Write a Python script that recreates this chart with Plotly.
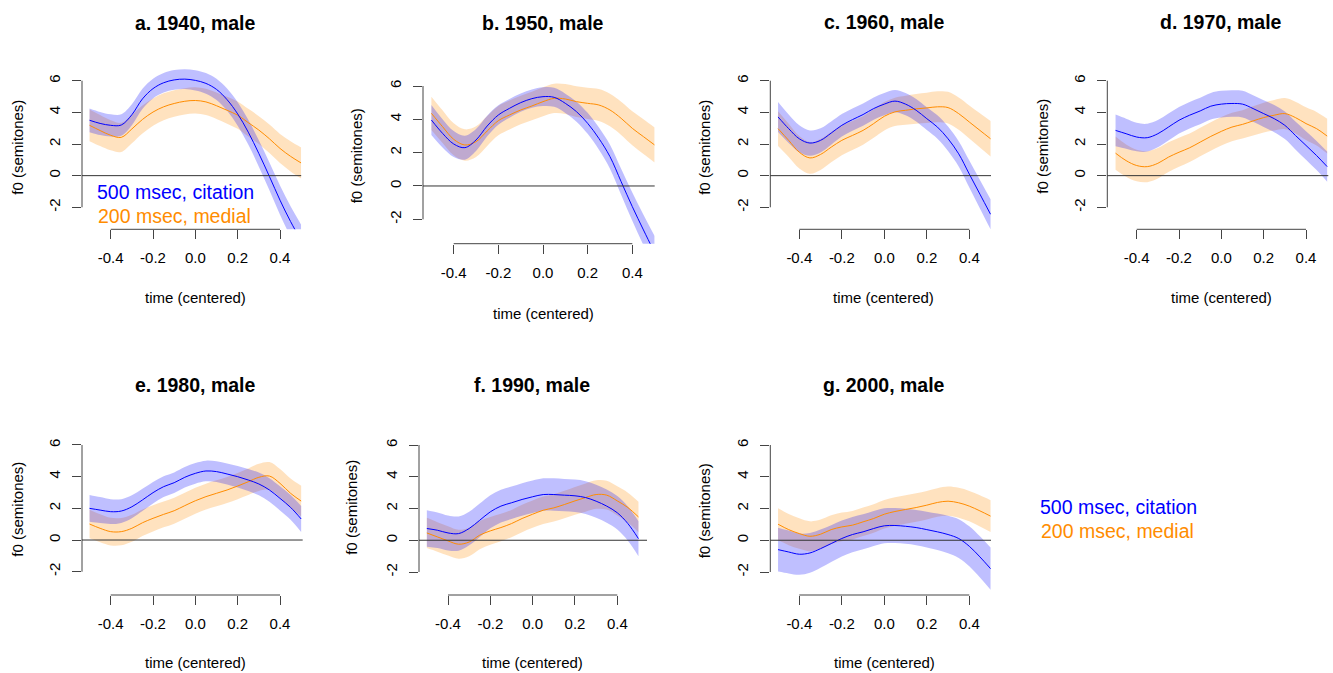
import plotly.graph_objects as go

W, H = 1333, 673

# ---------------- data ----------------
time = [-0.5, -0.45, -0.4, -0.35, -0.3, -0.25, -0.2, -0.15, -0.1, -0.05, 0.0,
        0.05, 0.1, 0.15, 0.2, 0.25, 0.3, 0.35, 0.4, 0.45, 0.5]

panel_titles = ["a. 1940, male", "b. 1950, male", "c. 1960, male", "d. 1970, male",
                "e. 1980, male", "f. 1990, male", "g. 2000, male"]

x_tick_vals = [-0.4, -0.2, 0.0, 0.2, 0.4]
x_tick_text = ["-0.4", "-0.2", "0.0", "0.2", "0.4"]
y_tick_vals = [-2, 0, 2, 4, 6]
y_tick_text = ["-2", "0", "2", "4", "6"]

series_names = ["500 msec, citation", "200 msec, medial"]

# 500 msec, citation (blue): mean and half-width of band
a_blue = [3.5, 3.3, 3.18, 3.2, 3.85, 4.85, 5.5, 5.87, 6.05, 6.1, 6.02, 5.83, 5.45, 4.8, 3.9, 2.75, 1.4, -0.05, -1.55, -2.9, -4.1]
a_blue_hw = [0.75, 0.73, 0.7, 0.68, 0.66, 0.64, 0.62, 0.62, 0.62, 0.63, 0.64, 0.65, 0.67, 0.7, 0.74, 0.78, 0.83, 0.88, 0.92, 0.96, 1.0]
b_blue = [3.96, 3.16, 2.52, 2.3, 2.76, 3.6, 4.26, 4.66, 5.0, 5.24, 5.36, 5.32, 4.96, 4.46, 3.76, 2.86, 1.76, 0.26, -1.24, -2.64, -4.0]
b_blue_hw = [0.9, 0.85, 0.78, 0.72, 0.66, 0.62, 0.58, 0.56, 0.55, 0.55, 0.56, 0.57, 0.58, 0.6, 0.63, 0.67, 0.72, 0.78, 0.85, 0.92, 1.0]
c_blue = [3.71, 2.97, 2.33, 2.06, 2.23, 2.69, 3.18, 3.54, 3.86, 4.24, 4.52, 4.71, 4.52, 4.13, 3.6, 3.07, 2.33, 1.38, 0.1, -1.17, -2.44]
c_blue_hw = [0.95, 0.9, 0.85, 0.8, 0.76, 0.73, 0.71, 0.7, 0.7, 0.7, 0.7, 0.7, 0.7, 0.71, 0.72, 0.74, 0.77, 0.8, 0.85, 0.9, 0.95]
d_blue = [2.86, 2.65, 2.44, 2.4, 2.65, 3.07, 3.5, 3.82, 4.09, 4.39, 4.52, 4.56, 4.52, 4.24, 3.92, 3.6, 3.18, 2.54, 1.91, 1.27, 0.57]
d_blue_hw = [1.0, 0.95, 0.9, 0.88, 0.86, 0.85, 0.84, 0.84, 0.84, 0.84, 0.84, 0.84, 0.84, 0.84, 0.85, 0.86, 0.87, 0.88, 0.9, 0.92, 0.95]
e_blue = [2.0, 1.89, 1.79, 1.83, 2.1, 2.53, 2.99, 3.37, 3.62, 3.96, 4.21, 4.36, 4.32, 4.17, 4.0, 3.79, 3.54, 3.16, 2.63, 2.06, 1.33]
e_blue_hw = [0.85, 0.82, 0.78, 0.75, 0.72, 0.7, 0.68, 0.66, 0.65, 0.65, 0.65, 0.65, 0.65, 0.66, 0.68, 0.7, 0.72, 0.74, 0.76, 0.78, 0.82]
f_blue = [0.74, 0.63, 0.46, 0.42, 0.74, 1.26, 1.79, 2.15, 2.36, 2.57, 2.74, 2.88, 2.88, 2.84, 2.8, 2.69, 2.46, 2.15, 1.73, 1.05, 0.1]
f_blue_hw = [1.15, 1.12, 1.1, 1.08, 1.06, 1.05, 1.04, 1.03, 1.02, 1.02, 1.02, 1.02, 1.02, 1.02, 1.02, 1.03, 1.04, 1.05, 1.06, 1.08, 1.1]
g_blue = [-0.59, -0.74, -0.88, -0.8, -0.53, -0.21, 0.11, 0.36, 0.53, 0.74, 0.91, 0.93, 0.88, 0.8, 0.67, 0.53, 0.36, 0.11, -0.38, -1.05, -1.79]
g_blue_hw = [1.38, 1.35, 1.3, 1.25, 1.2, 1.16, 1.13, 1.11, 1.1, 1.1, 1.1, 1.1, 1.1, 1.11, 1.13, 1.15, 1.18, 1.22, 1.26, 1.3, 1.33]

# 200 msec, medial (orange): mean and half-width of band
a_orange = [3.18, 2.85, 2.55, 2.42, 2.95, 3.55, 4.02, 4.35, 4.56, 4.7, 4.75, 4.66, 4.42, 4.13, 3.82, 3.35, 2.88, 2.33, 1.72, 1.22, 0.8]
a_orange_hw = [1.0, 0.98, 0.95, 0.92, 0.9, 0.88, 0.86, 0.85, 0.84, 0.83, 0.83, 0.83, 0.84, 0.85, 0.86, 0.87, 0.88, 0.9, 0.92, 0.95, 0.98]
b_orange = [4.36, 3.56, 2.8, 2.46, 2.66, 3.3, 3.92, 4.26, 4.56, 4.8, 5.06, 5.26, 5.22, 5.06, 4.96, 4.86, 4.56, 4.06, 3.46, 2.96, 2.46]
b_orange_hw = [1.0, 0.98, 0.96, 0.94, 0.92, 0.9, 0.88, 0.87, 0.86, 0.86, 0.87, 0.88, 0.9, 0.92, 0.94, 0.96, 0.98, 1.0, 1.02, 1.04, 1.05]
c_orange = [2.97, 2.23, 1.48, 1.12, 1.34, 1.8, 2.23, 2.54, 2.86, 3.29, 3.75, 4.03, 4.13, 4.22, 4.28, 4.35, 4.3, 3.92, 3.39, 2.86, 2.33]
c_orange_hw = [1.1, 1.05, 1.02, 1.0, 0.98, 0.96, 0.94, 0.92, 0.9, 0.9, 0.9, 0.9, 0.92, 0.94, 0.96, 0.98, 1.0, 1.02, 1.05, 1.08, 1.12]
d_orange = [1.42, 0.95, 0.64, 0.57, 0.78, 1.17, 1.48, 1.76, 2.12, 2.48, 2.8, 3.07, 3.24, 3.46, 3.67, 3.82, 3.92, 3.67, 3.29, 2.97, 2.5]
d_orange_hw = [1.05, 1.02, 1.0, 0.98, 0.96, 0.94, 0.92, 0.9, 0.9, 0.9, 0.9, 0.9, 0.9, 0.92, 0.94, 0.96, 0.98, 1.0, 1.03, 1.06, 1.1]
e_orange = [1.01, 0.74, 0.53, 0.53, 0.74, 1.09, 1.37, 1.62, 1.85, 2.17, 2.48, 2.74, 2.95, 3.16, 3.41, 3.68, 3.96, 4.04, 3.58, 2.95, 2.46]
e_orange_hw = [0.9, 0.88, 0.87, 0.86, 0.85, 0.84, 0.83, 0.82, 0.82, 0.82, 0.82, 0.82, 0.82, 0.82, 0.83, 0.84, 0.86, 0.88, 0.9, 0.93, 0.96]
f_orange = [0.46, 0.21, -0.04, -0.25, -0.11, 0.32, 0.59, 0.8, 1.05, 1.37, 1.64, 1.89, 2.04, 2.25, 2.48, 2.69, 2.88, 2.84, 2.48, 2.06, 1.47]
f_orange_hw = [0.95, 0.93, 0.92, 0.91, 0.9, 0.89, 0.88, 0.87, 0.86, 0.86, 0.86, 0.86, 0.86, 0.87, 0.88, 0.89, 0.9, 0.91, 0.92, 0.94, 0.96]
g_orange = [1.01, 0.67, 0.42, 0.25, 0.38, 0.67, 0.84, 0.95, 1.16, 1.37, 1.64, 1.81, 1.94, 2.06, 2.21, 2.38, 2.46, 2.36, 2.15, 1.85, 1.52]
g_orange_hw = [1.0, 0.98, 0.96, 0.94, 0.92, 0.9, 0.9, 0.9, 0.9, 0.9, 0.9, 0.9, 0.9, 0.9, 0.9, 0.9, 0.92, 0.94, 0.96, 0.98, 1.0]

blue_means = [a_blue, b_blue, c_blue, d_blue, e_blue, f_blue, g_blue]
blue_hws = [a_blue_hw, b_blue_hw, c_blue_hw, d_blue_hw, e_blue_hw, f_blue_hw, g_blue_hw]
orange_means = [a_orange, b_orange, c_orange, d_orange, e_orange, f_orange, g_orange]
orange_hws = [a_orange_hw, b_orange_hw, c_orange_hw, d_orange_hw, e_orange_hw, f_orange_hw, g_orange_hw]

# ---------------- layout geometry (pixels) ----------------
# (y-axis line x, px of x=-0.4, px of x=0.4, py of y=6, py of y=-2, x-axis line y, right crop px)
geom = [
    (82.0, 110.7, 280.0, 80.7, 207.3, 229.3, 301.2),
    (423.0, 453.7, 632.3, 86.0, 219.3, 243.7, 654.7),
    (770.3, 799.3, 969.3, 80.7, 207.3, 229.3, 991.0),
    (1107.3, 1136.7, 1306.0, 80.7, 207.3, 229.3, 1328.3),
    (82.0, 110.7, 280.0, 445.0, 571.7, 595.0, 302.7),
    (419.0, 448.0, 617.3, 445.0, 572.0, 595.0, 647.0),
    (770.3, 799.3, 969.3, 445.0, 572.0, 595.0, 991.0),
]
title_pos = [(195, 22.7), (543, 23.3), (884, 22), (1221, 22), (195, 385), (532, 385), (884, 385)]
xlab_pos = [(195.7, 297), (543, 313.3), (884, 297), (1221, 297), (195.7, 662.7), (532.5, 662.7), (884.3, 662.7)]
ylab_pos = [(16.7, 147), (356.3, 156), (704.3, 147.5), (1041.7, 146), (16.7, 509), (351.3, 507.5), (704.3, 511)]

BLUE = "#0000ff"
ORANGE = "#ff8c00"
BLUE_FILL = "rgba(0,0,255,0.25)"
ORANGE_FILL = "rgba(255,140,0,0.25)"
AXC = "#444444"
FONT = "Liberation Sans, Arial, sans-serif"

fig = go.Figure()
annotations = []
shapes = []


def px2paper_x(px):
    return px / W


def px2paper_y(py):
    return 1 - py / H


for i in range(7):
    n = "" if i == 0 else str(i + 1)
    xa, ya = "x" + n, "y" + n
    ylx, xm4, xp4, y6, ym2, xb, xr = geom[i]
    ux = (xp4 - xm4) / 0.8
    uy = (ym2 - y6) / 8.0
    y0px = y6 + 6 * uy
    top_px = y0px - 7.4 * uy

    def xval(px):
        return -0.4 + (px - xm4) / ux

    def yval(py):
        return (y0px - py) / uy

    # bands
    for means, hws, fillc in ((orange_means[i], orange_hws[i], ORANGE_FILL),
                              (blue_means[i], blue_hws[i], BLUE_FILL)):
        upper = [m + h for m, h in zip(means, hws)]
        lower = [m - h for m, h in zip(means, hws)]
        fig.add_trace(go.Scatter(x=time, y=upper, mode="lines", line=dict(width=0, shape="spline"),
                                 hoverinfo="skip", showlegend=False, xaxis=xa, yaxis=ya))
        fig.add_trace(go.Scatter(x=time, y=lower, mode="lines", line=dict(width=0, shape="spline"),
                                 fill="tonexty", fillcolor=fillc,
                                 hoverinfo="skip", showlegend=False, xaxis=xa, yaxis=ya))
    # mean lines
    fig.add_trace(go.Scatter(x=time, y=orange_means[i], mode="lines", name=series_names[1],
                             line=dict(color=ORANGE, width=1, shape="spline"),
                             showlegend=False, xaxis=xa, yaxis=ya))
    fig.add_trace(go.Scatter(x=time, y=blue_means[i], mode="lines", name=series_names[0],
                             line=dict(color=BLUE, width=1, shape="spline"),
                             showlegend=False, xaxis=xa, yaxis=ya))

    xaxis = dict(domain=[px2paper_x(ylx), px2paper_x(xr)], range=[xval(ylx), xval(xr)],
                 anchor=ya, showgrid=False, zeroline=False, showline=False,
                 ticks="outside", ticklen=9, tickwidth=1, tickcolor=AXC,
                 tickvals=x_tick_vals, ticktext=x_tick_text,
                 tickfont=dict(family=FONT, size=15, color="#000"),
                 ticklabelstandoff=6, fixedrange=True)
    yaxis = dict(domain=[px2paper_y(xb), px2paper_y(top_px)], range=[yval(xb), yval(top_px)],
                 anchor=xa, showgrid=False, zeroline=False, showline=False,
                 ticks="outside", ticklen=9, tickwidth=1, tickcolor=AXC,
                 tickvals=y_tick_vals, ticktext=y_tick_text, tickangle=-90,
                 tickfont=dict(family=FONT, size=15, color="#000"),
                 ticklabelstandoff=6, fixedrange=True)
    fig.update_layout(**{"xaxis" + n: xaxis, "yaxis" + n: yaxis})

    # R-style detached axis lines and the horizontal zero line
    shapes.append(dict(type="line", xref=xa + " domain", yref=ya, x0=0, x1=0, y0=-2, y1=6,
                       line=dict(color=AXC, width=1)))
    shapes.append(dict(type="line", xref=xa, yref=ya + " domain", x0=-0.4, x1=0.4, y0=0, y1=0,
                       line=dict(color=AXC, width=1)))
    shapes.append(dict(type="line", xref=xa + " domain", yref=ya, x0=0, x1=1, y0=0, y1=0,
                       line=dict(color="#333333", width=1)))

    tx, ty = title_pos[i]
    annotations.append(dict(text="<b>" + panel_titles[i] + "</b>", x=px2paper_x(tx), y=px2paper_y(ty),
                            xref="paper", yref="paper", showarrow=False, xanchor="center", yanchor="middle",
                            font=dict(family=FONT, size=19.5, color="#000")))
    lx, ly = xlab_pos[i]
    annotations.append(dict(text="time (centered)", x=px2paper_x(lx), y=px2paper_y(ly),
                            xref="paper", yref="paper", showarrow=False, xanchor="center", yanchor="middle",
                            font=dict(family=FONT, size=15, color="#000")))
    vx, vy = ylab_pos[i]
    annotations.append(dict(text="f0 (semitones)", x=px2paper_x(vx), y=px2paper_y(vy), textangle=-90,
                            xref="paper", yref="paper", showarrow=False, xanchor="center", yanchor="middle",
                            font=dict(family=FONT, size=15, color="#000")))

# legends (text only, as in the original)
for (lx, ly1, ly2) in [(95, 191.7, 216.0), (1038, 506.7, 531.0)]:
    annotations.append(dict(text=series_names[0], x=px2paper_x(lx), y=px2paper_y(ly1),
                            xref="paper", yref="paper", showarrow=False, xanchor="left", yanchor="middle",
                            font=dict(family=FONT, size=19.5, color=BLUE)))
    annotations.append(dict(text=series_names[1], x=px2paper_x(lx + 1), y=px2paper_y(ly2),
                            xref="paper", yref="paper", showarrow=False, xanchor="left", yanchor="middle",
                            font=dict(family=FONT, size=19.5, color=ORANGE)))

fig.update_layout(width=W, height=H, margin=dict(l=0, r=0, t=0, b=0),
                  paper_bgcolor="white", plot_bgcolor="white",
                  showlegend=False, annotations=annotations, shapes=shapes,
                  font=dict(family=FONT))

fig.write_html("out.html", config={"displayModeBar": False})
